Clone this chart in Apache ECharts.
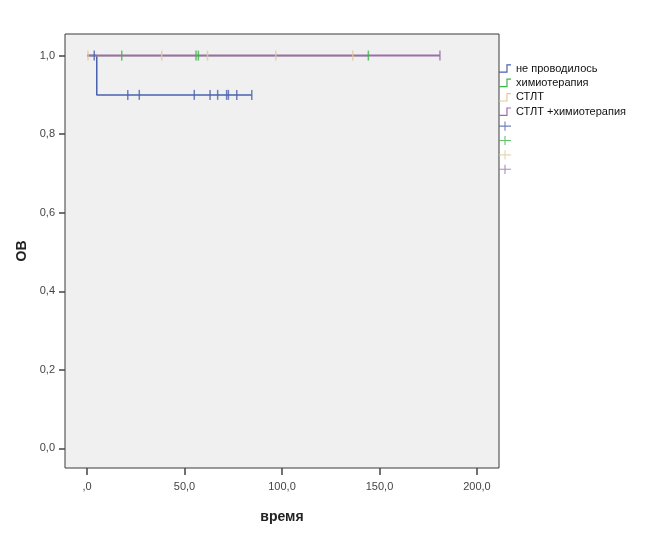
<!DOCTYPE html>
<html>
<head>
<meta charset="utf-8">
<script src="https://cdn.jsdelivr.net/npm/echarts@6/dist/echarts.min.js"></script>
<style>
  html, body { margin: 0; padding: 0; background: #fff; }
  #container { width: 666px; height: 533px; }
</style>
</head>
<body>
<div id="container"></div>
<script>
var myChart = echarts.init(document.getElementById('container'));

// groups
var groupNames = ['не проводилось', 'химиотерапия', 'СТЛТ', 'СТЛТ +химиотерапия'];
var groupColors = ['#4a62b0', '#3cb54a', '#e2c9a2', '#9a6fa8'];

// Kaplan-Meier steps [time, survival]
var curveNone = [[0, 1], [5, 0.9], [84.5, 0.9]];
var curveChemo = [[0, 1], [144.3, 1]];
var curveStlt = [[0, 1], [136.3, 1]];
var curveStltChemo = [[0, 1], [181, 1]];

// censored observations [time, survival]
var censNone = [[3.7, 1], [20.9, 0.9], [26.8, 0.9], [55.0, 0.9], [63.1, 0.9], [67.0, 0.9],
  [71.6, 0.9], [72.5, 0.9], [76.8, 0.9], [84.5, 0.9]];
var censChemo = [[17.8, 1], [55.9, 1], [57.1, 1], [144.3, 1]];
var censStlt = [[0.5, 1], [38.3, 1], [61.8, 1], [96.8, 1], [136.3, 1]];
var censStltChemo = [[181, 1]];

var xTicks = [0, 50, 100, 150, 200];
var yTicks = [0, 0.2, 0.4, 0.6, 0.8, 1.0];

var curves = [curveNone, curveChemo, curveStlt, curveStltChemo];
var censors = [censNone, censChemo, censStlt, censStltChemo];
var lineWidths = [1.5, 1.3, 1.3, 2];

var stepIcon = 'path://M0,9h8v-8h5v1.3h-3.7v8h-9.3z';
var plusIcon = 'path://M0,4.4h13v1.2h-13z M5.9,0h1.2v10h-1.2z';

var series = [];
var legendData = [];
curves.forEach(function (c, i) {
  series.push({
    name: groupNames[i],
    type: 'line',
    step: 'end',
    data: c,
    showSymbol: false,
    color: groupColors[i],
    lineStyle: { width: lineWidths[i], color: groupColors[i] },
    z: 2 + i
  });
  legendData.push({ name: groupNames[i], icon: stepIcon });
});
censors.forEach(function (c, i) {
  series.push({
    name: 'cens' + i,
    type: 'scatter',
    data: c,
    symbol: 'rect',
    symbolSize: [1.5, 10],
    color: groupColors[i],
    itemStyle: { color: groupColors[i] },
    z: 10
  });
  legendData.push({ name: 'cens' + i, icon: plusIcon });
});

function comma(v, lead) {
  var s = v.toFixed(1).replace('.', ',');
  if (!lead && v === 0) s = ',0';
  return s;
}

var option = {
  backgroundColor: '#fff',
  animation: false,
  textStyle: { fontFamily: 'Arial, "Liberation Sans", sans-serif' },
  grid: {
    left: 65, top: 34, right: 167, bottom: 65,
    show: true,
    backgroundColor: '#f0f0f0',
    borderColor: '#3a3a3a',
    borderWidth: 1
  },
  legend: {
    orient: 'vertical',
    left: 499,
    top: 63,
    padding: 0,
    itemWidth: 12,
    itemHeight: 10,
    itemGap: 3.4,
    selectedMode: false,
    data: legendData,
    formatter: function (name) { return name.indexOf('cens') === 0 ? ' ' : name; },
    textStyle: { fontSize: 11, lineHeight: 10, color: '#111' }
  },
  xAxis: {
    type: 'value',
    min: -11.3,
    max: 211.3,
    name: 'время',
    nameLocation: 'middle',
    nameGap: 42,
    nameTextStyle: { fontSize: 14, fontWeight: 'bold', color: '#222' },
    splitLine: { show: false },
    axisLine: { show: false, onZero: false },
    axisTick: { show: true, length: 7, customValues: xTicks, lineStyle: { color: '#444', width: 1.5 } },
    axisLabel: {
      customValues: xTicks,
      margin: 13,
      fontSize: 11,
      color: '#444',
      formatter: function (v) { return comma(v, false); }
    }
  },
  yAxis: {
    type: 'value',
    min: -0.05,
    max: 1.055,
    name: 'ОВ',
    nameLocation: 'middle',
    nameGap: 35,
    nameTextStyle: { fontSize: 14, fontWeight: 'bold', color: '#222' },
    splitLine: { show: false },
    axisLine: { show: false, onZero: false },
    axisTick: { show: true, length: 6, customValues: yTicks, lineStyle: { color: '#444', width: 1.5 } },
    axisLabel: {
      customValues: yTicks,
      margin: 10,
      fontSize: 11,
      color: '#444',
      formatter: function (v) { return comma(v, true); }
    }
  },
  series: series
};

myChart.setOption(option);
</script>
</body>
</html>
